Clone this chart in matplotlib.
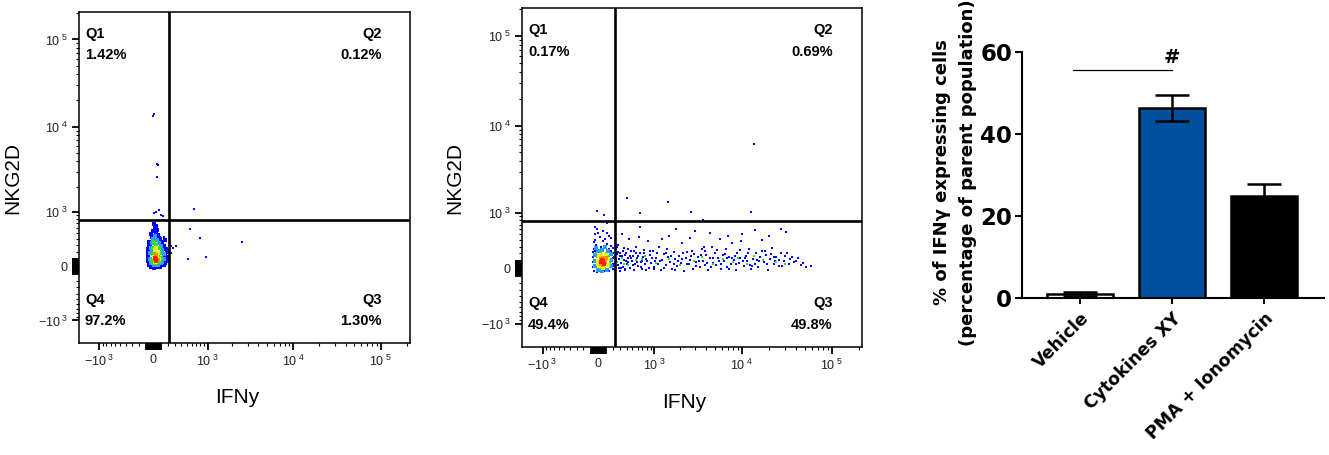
import numpy as np
import matplotlib
matplotlib.use('Agg')
import matplotlib.pyplot as plt
import matplotlib.transforms as mtransforms

plt.rcParams['font.family'] = ['Liberation Sans', 'DejaVu Sans']
plt.rcParams['mathtext.fontset'] = 'custom'
plt.rcParams['mathtext.rm'] = 'Liberation Sans'
plt.rcParams['mathtext.it'] = 'Liberation Sans:italic'
plt.rcParams['mathtext.bf'] = 'Liberation Sans:bold'
plt.rcParams['axes.unicode_minus'] = False

# ---------------- data ----------------
# flow panel 1 (vehicle): IFNy (x) / NKG2D (y) events, grouped by density colour
p1_blue = [(8, 680), (36, 640), (22, 600), (50, 560), (-4, 540), (36, 520),
           (-31, 480), (-16, 430), (64, 470), (77, 420), (93, 400), (8, 450),
           (-58, 340), (-44, 300), (107, 350), (122, 310), (137, 280), (-58, 280), (152, 380),
           (-71, 240), (-71, 180), (-71, 120), (-71, 70), (168, 240), (184, 190), (184, 130),
           (168, 80), (184, 70), (-58, 210), (152, 150),
           (-58, 20), (-31, -10), (8, -18), (50, -15), (93, -10), (137, 10), (152, 40), (-44, 50)]
p1_out = [(2, 14000), (-5, 13400), (46, 3730), (58, 3650), (46, 2660), (4, 960), (36, 1000),
          (76, 1050), (99, 905), (126, 880), (655, 1080), (570, 590), (780, 420), (2580, 345),
          (945, 122), (525, 99), (245, 281), (280, 260), (317, 290), (240, 174), (145, 430)]
p1_cyan = [(-44, 100), (-44, 180), (-31, 250), (-16, 330), (-4, 400), (22, 440), (50, 380),
           (77, 330), (107, 280), (122, 220), (137, 160), (137, 90), (107, 40), (64, 10),
           (8, 10), (-31, 40), (-16, 200), (122, 50)]
p1_green = [(-20, 80), (-10, 160), (0, 260), (10, 340), (40, 300), (70, 250), (90, 180),
            (100, 110), (80, 50), (40, 30), (-10, 40), (60, 160), (20, 200)]
p1_yellow = [(10, 120), (20, 220), (40, 260), (60, 180), (70, 100), (40, 60), (20, 60), (50, 140)]
p1_orange = [(20, 80), (40, 100), (30, 150), (55, 80)]
p1_red = [(30, 90), (40, 70), (25, 110)]

# flow panel 2 (cytokines)
p2_blue = [(-50, 640), (-20, 600), (55, 560), (107, 520), (-40, 500), (134, 470), (20, 450),
           (81, 420), (-50, 400), (160, 430), (0, 520),
           (-60, 370), (-30, 330), (29, 300), (107, 340), (161, 310), (189, 280), (-60, 270),
           (55, 380), (134, 260),
           (-75, 220), (-75, 150), (-75, 80), (-75, 20), (-60, -30), (-20, -45), (29, -48),
           (81, -40), (134, -30), (189, -10), (189, 60), (189, 130), (189, 200), (161, 240), (-50, 240),
           (200, 30), (210, 150), (220, -20), (230, 260), (240, 90), (250, 190), (260, 40), (270, 330),
           (280, 120), (290, -30), (300, 210), (310, 70), (320, 160), (340, 20), (350, 280), (360, 110),
           (380, -10), (390, 200), (400, 60), (420, 140), (440, 420), (450, 10), (470, 240), (490, 90),
           (510, 170), (530, -20), (550, 60), (570, 300), (590, 130), (610, 30), (640, 200), (660, 80),
           (690, -10), (710, 150), (740, 250), (760, 50), (790, 120), (820, 380), (850, 10), (870, 180),
           (900, 70),
           (950, 230), (1000, 20), (1050, 140), (1100, 60), (1150, 300), (1200, -20), (1250, 110),
           (1300, 190), (1380, 40), (1450, 150), (1500, 480), (1550, 80), (1620, -10), (1700, 220),
           (1780, 120), (1850, 30), (1950, 170), (2050, 70), (2150, 350), (2250, -30), (2350, 140),
           (2450, 220), (2550, 50), (2650, 110), (2800, -10), (2900, 190), (3000, 560), (3100, 80),
           (3250, 150), (3400, 20), (3550, 260), (3700, 100), (3850, 40), (4000, 180), (4200, -20),
           (4400, 130), (4600, 300), (4800, 70), (5000, 200),
           (5200, 40), (5400, 130), (5700, 420), (5900, -10), (6100, 180), (6300, 90), (6600, 260),
           (6900, 20), (7200, 150), (7500, 60), (7800, 350), (8100, 110), (8500, -20), (8800, 200),
           (9200, 70), (9600, 140), (10000, 500), (10500, 30), (11000, 170), (11500, 90), (12000, 260),
           (12600, -10), (13200, 120), (13800, 60), (14500, 210), (15200, 20), (16000, 150),
           (16800, 400), (17600, 80), (18500, 180), (19500, -20), (20500, 120), (21500, 280),
           (22500, 50), (24000, 150), (25500, 30), (27000, 200), (29000, 90), (31000, 550),
           (33000, 60), (36000, 150), (40000, 100), (45000, 40), (52000, 20), (58000, 30),
           (330, 500), (620, 450), (1250, 420), (2600, 430), (4400, 520), (7000, 470), (9800, 380),
           (14000, 580), (20000, 470), (27000, 600), (1800, 610), (650, 640),
           (230, 110), (260, 220), (310, 10), (370, 180), (430, 80), (480, 130), (560, 200),
           (700, 100), (780, -20), (1020, 90), (1400, 200), (1700, 50), (2100, 120), (2700, 160),
           (3300, 90), (3900, 240), (4500, 20), (5500, 100), (6800, 130), (8300, 170), (10200, 100),
           (12300, 40), (15600, 90), (18000, 240), (23500, 100), (30000, 160), (34000, 120),
           (215, 70), (245, 300), (275, 10), (295, 170), (335, 240), (365, -20), (395, 100),
           (415, 260), (455, 170), (505, 40), (525, 230), (585, 80), (615, 160), (675, 20),
           (725, 210), (805, 90), (880, 240), (930, 130), (980, -10), (1080, 200), (1180, 100),
           (1330, 10), (1420, 270), (1600, 160), (1750, -20), (1900, 90), (2200, 210), (2400, 60),
           (2750, 240), (3050, 30), (3450, 180), (3800, 290), (4100, 70), (4700, 130), (5300, 250),
           (5800, 60), (6400, 190), (7100, -10), (7700, 130), (8600, 50), (9400, 250), (10800, 130),
           (11800, 200), (13000, 30), (14800, 110), (16500, 230), (19000, 60), (21000, 190),
           (23000, 150), (26000, 110), (28000, 30), (32000, 200), (38000, 80), (42000, 130),
           (48000, 70)]
p2_out = [(410, 1530), (1475, 1370), (640, 985), (2660, 1025), (12450, 1025), (13560, 6200),
          (3660, 810), (-20, 1060), (72, 940), (117, 735)]
p2_cyan = [(-50, 180), (-40, 100), (-40, 30), (-10, -20), (50, -30), (110, -20), (160, 30),
           (170, 110), (160, 190), (120, 230), (50, 250), (-10, 230), (-30, 280), (80, 290)]
p2_green = [(-20, 150), (-20, 60), (20, -10), (90, 0), (150, 70), (140, 160), (100, 210),
            (30, 220), (-30, 200),
            (250, 80), (330, 140), (420, 40), (560, 110), (760, 160), (1050, 70), (1500, 120),
            (2000, 40), (2900, 100), (3600, 150), (4800, 60), (6200, 120), (8000, 80), (9000, 130),
            (11500, 50), (13500, 160), (17000, 110), (24000, 80), (30000, 60), (360, 60), (700, 120)]
p2_yellow = [(0, 100), (20, 30), (60, 10), (120, 40), (130, 120), (100, 180), (40, 180),
             (10, 160), (-10, 60)]
p2_orange = [(30, 60), (60, 40), (90, 80), (60, 130), (30, 120), (100, 130)]
p2_red = [(40, 80), (60, 90), (70, 60), (45, 110)]

p1_quads = ['1.42%', '0.12%', '1.30%', '97.2%']
p2_quads = ['0.17%', '0.69%', '49.8%', '49.4%']
gate_x, gate_y = 215, 785

# bar chart
groups = ['Vehicle', 'Cytokines XY', 'PMA + Ionomycin']
means = [1.0, 46.3, 24.8]
errs = [0.4, 3.1, 3.1]
bar_colors = ['white', '#0050a0', 'black']

# ---------------- helpers ----------------
W = 508.0


def fwd(v):
    return np.arcsinh(np.asarray(v, dtype=float) / W) / np.log(10)


def inv(u):
    return W * np.sinh(np.asarray(u, dtype=float) * np.log(10))


major = [-1000, 0, 1000, 10000, 100000]
major_lab = [r'$-10^{\ 3}$', '0', r'$10^{\ 3}$', r'$10^{\ 4}$', r'$10^{\ 5}$']
blob = [s * v for s in (-1, 1) for v in range(10, 110, 10)]
minor = ([-v for v in range(200, 1000, 100)] + list(range(200, 1000, 100)) +
         list(range(2000, 10000, 1000)) + list(range(20000, 100000, 10000)) + [200000])


def flow_panel(ax, groups_pts, quads):
    for axis in ('x', 'y'):
        getattr(ax, 'set_%sscale' % axis)('function', functions=(fwd, inv))
    ax.set_xlim(-1760, 216000)
    ax.set_ylim(-1890, 206000)
    for pts, col, s in groups_pts:
        pts = np.array(pts)
        ax.scatter(pts[:, 0], pts[:, 1], s=s, c=col, marker='s', linewidths=0, zorder=2)
    ax.axvline(gate_x, color='black', lw=1.9, zorder=3)
    ax.axhline(gate_y, color='black', lw=1.9, zorder=3)
    ticks = major + blob
    labs = major_lab + [''] * len(blob)
    ax.set_xticks(ticks)
    ax.set_xticklabels(labs)
    ax.set_yticks(ticks)
    ax.set_yticklabels(labs)
    ax.set_xticks(minor, minor=True)
    ax.set_yticks(minor, minor=True)
    ax.tick_params(which='major', direction='out', length=5, width=1.3, labelsize=9,
                   labelcolor='#222222', pad=3)
    ax.tick_params(which='minor', direction='out', length=2.5, width=0.8)
    for sp in ax.spines.values():
        sp.set_linewidth(1.1)
    ax.set_xlabel('IFNy', fontsize=15)
    ax.set_ylabel('NKG2D', fontsize=15)
    ax.yaxis.set_label_coords(-0.17, 0.5)
    ax.xaxis.set_label_coords(0.478, -0.135)
    kw = dict(transform=ax.transAxes, fontsize=10.5, fontweight='bold')
    ax.text(0.018, 0.955, 'Q1', va='top', ha='left', **kw)
    ax.text(0.018, 0.892, quads[0], va='top', ha='left', **kw)
    ax.text(0.914, 0.955, 'Q2', va='top', ha='right', **kw)
    ax.text(0.914, 0.892, quads[1], va='top', ha='right', **kw)
    ax.text(0.914, 0.15, 'Q3', va='top', ha='right', **kw)
    ax.text(0.914, 0.087, quads[2], va='top', ha='right', **kw)
    ax.text(0.018, 0.15, 'Q4', va='top', ha='left', **kw)
    ax.text(0.018, 0.087, quads[3], va='top', ha='left', **kw)


BLUE, CYAN, GREEN, YELLOW, ORANGE, RED = '#0000ff', '#2a9dff', '#30e030', '#f0f000', '#ff9000', '#ff2000'

fig = plt.figure(figsize=(13.29, 4.55), dpi=100)
ax1 = fig.add_axes([79 / 1329, 112 / 455, 331 / 1329, 331 / 455])
ax2 = fig.add_axes([522 / 1329, 108 / 455, 340 / 1329, 339 / 455])
ax3 = fig.add_axes([1022 / 1329, 157 / 455, 302 / 1329, 246 / 455])

flow_panel(ax1, [(p1_out, BLUE, 2.2), (p1_blue, BLUE, 6), (p1_cyan, CYAN, 8), (p1_green, GREEN, 8),
                 (p1_yellow, YELLOW, 7), (p1_orange, ORANGE, 6), (p1_red, RED, 5)], p1_quads)
flow_panel(ax2, [(p2_out, BLUE, 2.2), (p2_blue, BLUE, 3.2), (p2_cyan, CYAN, 6), (p2_green, GREEN, 3.5),
                 (p2_yellow, YELLOW, 7), (p2_orange, ORANGE, 7), (p2_red, RED, 6)], p2_quads)

# ---------------- bar chart ----------------
bf = ['DejaVu Sans']
x = np.arange(len(groups))
ax3.bar(x, means, width=0.72, color=bar_colors, edgecolor='black', linewidth=1.8, zorder=2)
ax3.errorbar(x, means, yerr=errs, fmt='none', ecolor='black', elinewidth=1.8,
             capsize=12, capthick=1.8, zorder=3)
ax3.set_xlim(-0.63, 2.65)
ax3.set_ylim(0, 60)
ax3.set_yticks([0, 20, 40, 60])
ax3.set_yticklabels(['0', '20', '40', '60'], fontsize=16.5, fontweight='bold', family=bf)
ax3.set_xticks(x)
ax3.set_xticklabels(groups, rotation=45, ha='right', va='top', rotation_mode='anchor',
                    fontsize=12.5, fontweight='bold', family=bf)
off = mtransforms.ScaledTranslation(7 / 100, 0, fig.dpi_scale_trans)
for lab in ax3.get_xticklabels():
    lab.set_transform(lab.get_transform() + off)
ax3.tick_params(axis='y', length=5, width=1.5, pad=2)
ax3.tick_params(axis='x', length=4, width=1.5, pad=4)
for side in ('top', 'right'):
    ax3.spines[side].set_visible(False)
for side in ('left', 'bottom'):
    ax3.spines[side].set_linewidth(1.5)
ax3.set_ylabel('% of IFN\u03b3 expressing cells\n(percentage of parent population)',
               fontsize=13, fontweight='bold', family=bf, linespacing=1.55)
ax3.yaxis.set_label_coords(-0.15, 0.51)
ax3.plot([-0.08, 1.0], [55.5, 55.5], color='black', lw=0.9)
ax3.text(1.0, 56.3, '#', ha='center', va='bottom', fontsize=14, fontweight='bold', family=bf)

fig.savefig('out.png', dpi=100)
